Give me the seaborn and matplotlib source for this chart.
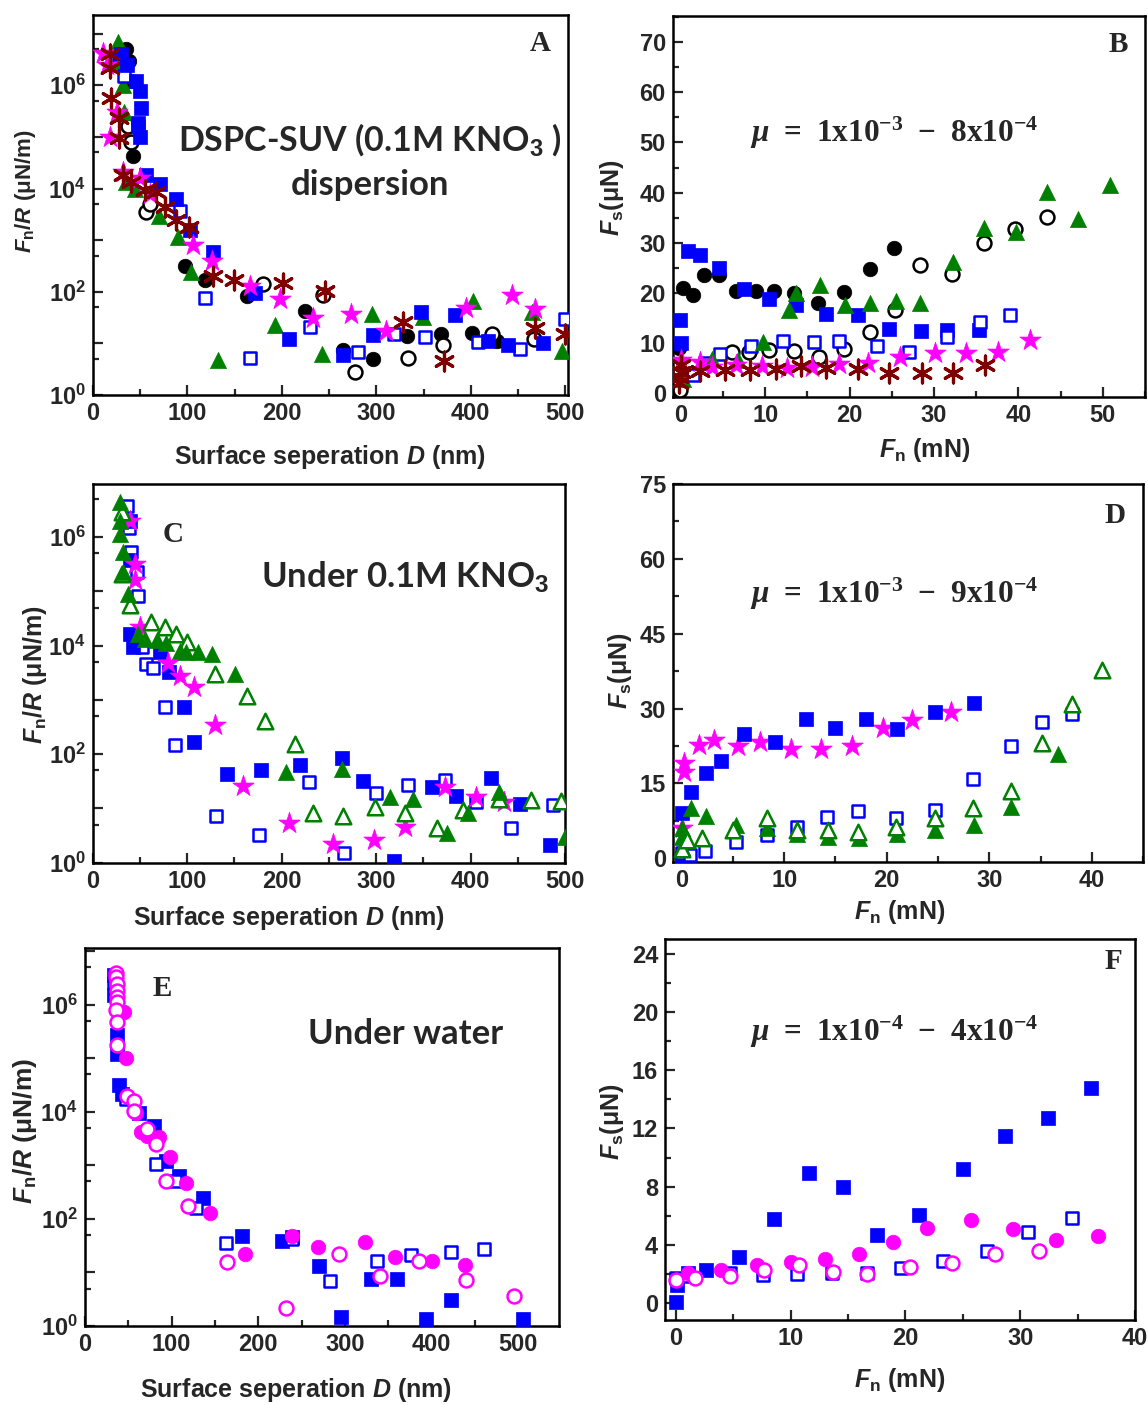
import numpy as np
import pandas as pd
import matplotlib
matplotlib.use("Agg")
import matplotlib.pyplot as plt
import seaborn as sns
from matplotlib.ticker import MultipleLocator, LogLocator, FuncFormatter, NullFormatter

# ---------------- data ----------------
# Panel A: F/R (uN/m) vs D (nm) -- DSPC-SUV dispersion
A_bc_x = [35, 38, 40, 42, 97, 118.5, 162.6, 224.5, 265, 297, 332, 369, 401, 428]
A_bc_y = [5.0e6, 3.0e6, 1.2e6, 4.2e4, 3.2e2, 1.7e2, 83, 42, 7.4, 4.9, 13.8, 15, 16, 11]
A_oc_x = [30, 33, 37, 40, 56.6, 60, 180, 244, 277.5, 334, 371, 422.5, 466.6]
A_oc_y = [4.0e6, 2.5e6, 1.6e5, 8.0e4, 3.5e3, 5.0e3, 1.4e2, 87, 2.8, 5.1, 9.5, 15, 12]
A_bs_x = [30, 36, 46, 49.5, 51.3, 47.7, 49.5, 56.6, 70.7, 88.4, 102.5, 127, 171.5, 207.5,
          265, 296, 347.5, 383, 418, 439.5, 477]
A_bs_y = [4.0e6, 2.5e6, 1.2e6, 7.8e5, 3.6e5, 1.9e5, 1.0e5, 1.8e4, 1.2e4, 6.3e3, 1.55e3,
          5.9e2, 93, 12, 5.9, 14.5, 41, 35, 11, 9.3, 10]
A_os_x = [28, 33, 47.7, 92, 118.5, 166, 230, 281, 319, 352, 408, 452.5, 500]
A_os_y = [3.5e6, 1.5e6, 1.6e5, 3.7e3, 76, 5.2, 21, 6.8, 15, 13.5, 10.7, 7.9, 30]
A_gt_x = [26.6, 28, 31.8, 33, 35.4, 45, 70, 90, 104, 132.5, 193, 243, 295, 349, 402, 465, 496.6]
A_gt_y = [6.8e6, 3.0e6, 1.0e6, 3.0e5, 1.35e4, 1.0e4, 3.0e3, 1.15e3, 2.45e2, 4.7, 23, 6.2,
          37, 32, 66, 40, 7.1]
A_ms_x = [10.6, 15, 17.7, 25, 31.8, 50, 60, 106, 125.5, 166, 198, 232.6, 273, 310, 395, 443.6, 468]
A_ms_y = [4.3e6, 2.5e6, 1.0e5, 3.0e5, 2.1e4, 1.6e4, 8.0e3, 7.9e2, 4.0e2, 1.3e2, 74, 31, 37,
          17, 48, 87, 46]
A_da_x = [17.7, 17.7, 19.5, 28, 28, 31.8, 40.7, 54.8, 67, 76, 87.7, 102, 127, 149, 201,
          245.7, 328, 372, 468, 500]
A_da_y = [4.0e6, 2.2e6, 5.8e5, 2.3e5, 9.5e4, 1.8e4, 1.35e4, 9.3e3, 8.7e3, 4.3e3, 2.5e3,
          1.8e3, 2.0e2, 1.7e2, 1.5e2, 1.05e2, 26, 4.6, 20, 15]

# Panel B: Fs (uN) vs Fn (mN)
B_bc_x = [-0.15, 0.3, 1.4, 2.7, 4.5, 6.6, 8.9, 11.1, 13.4, 16.3, 19.3, 22.4, 25.3]
B_bc_y = [9.0, 20.9, 19.6, 23.6, 23.6, 20.4, 20.4, 20.4, 19.9, 17.9, 20.2, 24.8, 28.9]
B_oc_x = [-0.1, 6.1, 8.1, 10.4, 13.4, 16.4, 19.4, 22.4, 25.4, 28.4, 32.1, 35.9, 39.6, 43.4]
B_oc_y = [0.7, 8.3, 8.3, 8.6, 8.5, 7.3, 8.8, 12.3, 16.6, 25.6, 23.7, 29.9, 32.7, 35.2]
B_bs_x = [-0.07, 0, 0.9, 2.3, 4.5, 7.5, 10.5, 13.6, 17.2, 21.0, 24.7, 28.5, 31.5, 35.3]
B_bs_y = [14.7, 10.0, 28.4, 27.5, 24.9, 20.7, 18.7, 17.6, 15.8, 15.6, 12.8, 12.5, 12.6, 12.6]
B_os_x = [1.5, 2.9, 4.6, 8.3, 12.1, 15.8, 18.8, 23.3, 27.1, 31.6, 35.4, 39.0]
B_os_y = [3.6, 6.0, 7.8, 9.4, 10.4, 10.3, 10.5, 9.4, 8.3, 11.2, 14.3, 15.6]
B_gt_x = [0.3, 3.7, 6.8, 9.8, 12.8, 13.6, 16.5, 19.5, 22.4, 25.5, 28.4, 32.2, 35.9, 39.7,
          43.4, 47.1, 50.9]
B_gt_y = [2.8, 6.8, 6.6, 10.3, 16.6, 20.0, 21.6, 17.6, 17.9, 18.4, 17.9, 26.1, 32.9, 32.1,
          40.2, 34.7, 41.5]
B_ms_x = [0, 2.3, 3.7, 6.6, 9.6, 12.6, 15.5, 18.7, 22.2, 26.0, 30.1, 33.8, 37.6, 41.4]
B_ms_y = [6.6, 6.3, 5.3, 5.6, 5.4, 5.0, 5.3, 5.8, 6.0, 7.3, 8.0, 8.0, 8.3, 10.6]
B_da_x = [-0.15, -0.15, 0, 0, 2.3, 5.3, 8.2, 11.3, 14.3, 17.2, 21.0, 24.7, 28.6, 32.3, 36.1]
B_da_y = [2.0, 3.3, 4.3, 5.6, 4.4, 4.6, 4.6, 4.8, 5.4, 5.0, 4.8, 4.0, 4.0, 4.1, 5.6]

# Panel C: under 0.1M KNO3
C_gt_x = [29, 29, 29, 32.6, 32.6, 37.7, 48, 55, 67.7, 78, 92, 99, 112, 126, 150.6, 205,
          263.5, 314.6, 339, 374.6, 397.5, 430, 500]
C_gt_y = [4.5e6, 2.0e6, 1.15e6, 5.2e5, 2.3e5, 9.1e4, 1.66e4, 1.35e4, 1.26e4, 1.1e4, 8.1e3,
          7.6e3, 7.6e3, 7.1e3, 3.0e3, 47, 54, 16, 15, 3.5, 8.1, 20, 3.0]
C_ot_x = [30.7, 30.7, 39.5, 61.7, 76.5, 88, 99.4, 129.4, 163.6, 182.3, 214, 233.4, 265,
          298.7, 330.5, 365, 392, 430, 464, 495.5]
C_ot_y = [2.9e6, 2.1e5, 5.5e4, 2.7e4, 2.2e4, 1.66e4, 1.17e4, 3.0e3, 1.2e3, 4.1e2, 1.55e2,
          8.1, 7.2, 10.5, 8.1, 4.4, 9.3, 15, 14.5, 13.5]
C_bs_x = [39.5, 39.5, 39.5, 43, 71, 81, 97, 107.5, 141.8, 178, 219.4, 263.5, 285.7, 318.8,
          358.7, 384.4, 422, 452, 484]
C_bs_y = [2.0e6, 3.7e5, 1.66e4, 9.3e3, 7.6e3, 3.2e3, 7.4e2, 1.66e2, 44, 52, 63, 85, 32,
          1.07, 25, 17, 36, 12.3, 2.1]
C_os_x = [36, 38, 41, 46.5, 48, 52, 56.4, 64, 76.5, 87, 131, 176, 229, 266, 299.8, 334,
          372.8, 406, 443, 487]
C_os_y = [3.8e6, 1.5e6, 5.2e5, 2.3e5, 8.1e4, 9.3e3, 4.5e3, 3.9e3, 7.4e2, 1.5e2, 7.2, 3.3,
          31, 1.5, 19.5, 27, 34, 13.2, 4.3, 11.5]
C_ms_x = [40, 44.8, 44.8, 50, 80, 92.4, 107.5, 130, 158.7, 207.7, 254, 298, 330.5, 372.8,
          405.6, 435.6]
C_ms_y = [2.0e6, 3.2e5, 1.6e5, 2.2e4, 4.7e3, 2.8e3, 1.74e3, 3.5e2, 26, 5.4, 2.2, 2.6, 4.6,
          25, 16, 13.2]

# Panel D
D_bs_x = [0, 0, 0.9, 2.4, 3.8, 6.1, 9.1, 12.1, 15.0, 18.0, 21.0, 24.7, 28.5]
D_bs_y = [0.0, 9.0, 13.2, 17.0, 19.5, 24.8, 23.2, 28.0, 26.1, 27.9, 25.9, 29.3, 31.1]
D_os_x = [0, 0.8, 2.3, 5.3, 8.3, 11.3, 14.2, 17.2, 20.9, 24.7, 28.4, 32.1, 35.1, 38.1]
D_os_y = [1.1, 0.7, 1.5, 3.3, 4.7, 6.3, 8.2, 9.5, 8.1, 9.6, 15.8, 22.5, 27.2, 29.0]
D_gt_x = [0, 0, 0, 0.9, 2.4, 5.3, 8.3, 11.3, 14.3, 17.3, 21.0, 24.7, 28.5, 32.1, 36.7]
D_gt_y = [2.3, 4.3, 6.0, 10.0, 8.5, 6.7, 6.1, 4.8, 4.3, 4.1, 4.8, 5.7, 6.7, 10.2, 20.8]
D_ot_x = [0, 0.5, 2.0, 5.0, 8.3, 11.3, 14.3, 17.2, 20.9, 24.7, 28.4, 32.1, 35.1, 38.1, 41.0]
D_ot_y = [1.8, 3.7, 4.0, 5.7, 8.0, 5.7, 5.7, 5.3, 6.3, 8.0, 10.0, 13.5, 23.0, 31.0, 37.7]
D_ms_x = [0, 0.2, 0.2, 1.7, 3.2, 5.5, 7.6, 10.7, 13.6, 16.6, 19.6, 22.5, 26.3]
D_ms_y = [6.0, 17.2, 19.0, 22.7, 23.7, 22.5, 23.2, 21.8, 21.8, 22.5, 26.0, 27.7, 29.3]

# Panel E: under water
E_bs_x = [33.5, 33.5, 37.4, 37.4, 39.2, 43, 62.3, 79.6, 93, 108.4, 136.5, 181.5, 227.7,
          238.4, 270, 329.5, 360, 296, 394, 421.8, 505]
E_bs_y = [3.5e6, 1.5e6, 2.75e5, 1.17e5, 3.2e4, 2.1e4, 9.5e3, 5.4e3, 1.2e3, 6.3e2, 2.5e2,
          47, 39, 45, 13.2, 7.6, 7.6, 1.45, 1.35, 3.0, 1.35]
E_os_x = [33.5, 47, 81.5, 103.8, 127.7, 162.3, 238.4, 282.6, 337, 376.5, 422.6, 460]
E_os_y = [2.5e6, 1.7e4, 1.05e3, 5.1e2, 1.6e2, 35, 42, 6.9, 16.6, 21, 24.5, 27]
E_mc_x = [45, 47, 58.5, 64.2, 72, 85.4, 98, 116, 144, 184.5, 238.4, 268.7, 322.6, 357.6, 400, 439]
E_mc_y = [7.4e5, 1.0e5, 9.5e3, 4.2e3, 3.5e3, 3.4e3, 1.45e3, 4.6e2, 1.3e2, 22, 48, 30, 37,
          19, 16, 14]
E_mo_x = [35.4, 35.4, 37, 37, 37, 37, 35.4, 37, 37, 49, 56.5, 56.5, 71, 81.5, 94, 119, 164,
          231.5, 293, 341, 385, 440, 495]
E_mo_y = [3.9e6, 3.2e6, 2.4e6, 1.8e6, 1.4e6, 1.1e6, 7.8e5, 4.7e5, 1.74e5, 2.0e4, 1.6e4,
          1.05e4, 4.8e3, 2.5e3, 5.1e2, 1.7e2, 15.5, 2.2, 22, 8.7, 16.6, 7.2, 3.6]

# Panel F
F_bs_x = [0, 0.1, 1.1, 2.6, 5.5, 8.6, 11.6, 14.6, 17.5, 21.2, 25.0, 28.7, 32.4, 36.2]
F_bs_y = [0.1, 1.25, 2.05, 2.28, 3.2, 5.8, 8.97, 7.95, 4.68, 6.05, 9.2, 11.46, 12.7, 14.77]
F_os_x = [0, 1.1, 4.7, 7.6, 10.6, 13.6, 16.7, 19.6, 23.3, 27.1, 30.7, 34.5]
F_os_y = [1.7, 1.9, 2.05, 1.94, 1.98, 2.1, 2.05, 2.44, 2.9, 3.58, 4.9, 5.86]
F_mc_x = [0, 1.1, 3.95, 7.1, 10.0, 13.0, 16.0, 18.9, 21.9, 25.7, 29.4, 33.1, 36.8]
F_mc_y = [1.6, 2.05, 2.28, 2.62, 2.85, 3.03, 3.35, 4.22, 5.18, 5.7, 5.09, 4.34, 4.63]
F_mo_x = [0.05, 1.7, 4.7, 7.7, 10.7, 13.7, 16.7, 20.4, 24.1, 27.8, 31.6]
F_mo_y = [1.6, 1.7, 1.87, 2.28, 2.62, 2.16, 1.98, 2.51, 2.78, 3.35, 3.58]

# ---------------- style ----------------
sns.set_theme(style="ticks")
plt.rcParams.update({
    "font.family": ["Liberation Sans", "DejaVu Sans"],
    "font.weight": "bold",
    "axes.labelweight": "bold",
    "mathtext.fontset": "custom",
    "mathtext.rm": "Liberation Sans:bold",
    "mathtext.it": "Liberation Sans:italic:bold",
    "mathtext.bf": "Liberation Sans:bold",
    "mathtext.sf": "Liberation Serif:bold",
    "mathtext.tt": "Liberation Serif:italic:bold",
    "axes.linewidth": 1.8,
    "axes.edgecolor": "black",
})

BLUE = "#0000FF"
GREEN = "#008000"
MAG = "#FF00FF"
DRED = "#800000"

STY = {
    "bc": dict(marker="o", color="black", edgecolor="black", linewidth=0.5, s=110),
    "oc": dict(marker="o", color="white", edgecolor="black", linewidth=1.8, s=100),
    "bs": dict(marker="s", color=BLUE, edgecolor=BLUE, linewidth=0.5, s=95),
    "os": dict(marker="s", color="white", edgecolor=BLUE, linewidth=1.8, s=82),
    "gt": dict(marker="^", color=GREEN, edgecolor=GREEN, linewidth=0.5, s=135),
    "ot": dict(marker="^", color="white", edgecolor=GREEN, linewidth=1.8, s=125),
    "ms": dict(marker="*", color=MAG, edgecolor=MAG, linewidth=0.5, s=260),
    "da": dict(marker=(6, 2, 0), color=DRED, edgecolor=DRED, linewidth=2.3, s=185),
    "mc": dict(marker="o", color=MAG, edgecolor=MAG, linewidth=0.5, s=110),
    "mo": dict(marker="o", color="white", edgecolor=MAG, linewidth=1.8, s=100),
}


def pts(ax, x, y, kind, z=3):
    df = pd.DataFrame({"x": x, "y": y})
    sns.scatterplot(data=df, x="x", y="y", ax=ax, legend=False, zorder=z, **STY[kind])


W, H = 1148, 1405
fig = plt.figure(figsize=(W / 100, H / 100), dpi=100)


def add_ax(l, t, r, b):
    return fig.add_axes([l / W, 1 - b / H, (r - l) / W, (b - t) / H])


def style_ax(ax):
    for s in ax.spines.values():
        s.set_visible(True)
        s.set_linewidth(1.8)
        s.set_color("black")
    ax.tick_params(which="both", direction="in", top=False, right=False, width=1.6,
                   labelsize=17, pad=5)
    ax.tick_params(which="major", length=7)
    ax.tick_params(which="minor", length=4)
    for lab in ax.get_xticklabels() + ax.get_yticklabels():
        lab.set_fontweight("bold")


def log_fmt(v, p):
    e = int(round(np.log10(v)))
    return r"$10^{%d}$" % e if e % 2 == 0 else ""


def set_log(ax, top, xmax):
    ax.set_yscale("log")
    ax.set_ylim(1, top)
    ax.set_xlim(0, xmax)
    ax.yaxis.set_major_locator(LogLocator(base=10, numticks=20))
    ax.yaxis.set_major_formatter(FuncFormatter(log_fmt))
    ax.yaxis.set_minor_locator(LogLocator(base=10, subs=[5], numticks=20))
    ax.yaxis.set_minor_formatter(NullFormatter())
    ax.xaxis.set_major_locator(MultipleLocator(100))
    ax.xaxis.set_minor_locator(MultipleLocator(50))


def labels(ax, xl, xpos, yl, ypos, xfs=18, yfs=15):
    ax.set_xlabel(xl, fontsize=xfs, fontweight="bold")
    ax.set_ylabel(yl, fontsize=yfs, fontweight="bold")
    ax.xaxis.set_label_coords(*xpos)
    ax.yaxis.set_label_coords(*ypos)
    ax.xaxis.label.set_va("center")
    ax.yaxis.label.set_va("center")


XL_D = r"Surface seperation $D$ (nm)"
YL_FR = r"$F_{\mathrm{n}}/R$ (μN/m)"
XL_FN = r"$F_{\mathrm{n}}$ (mN)"
YL_FS = r"$F_{\mathrm{s}}$(μN)"


def mu_text(ax, x, y, a, b, fs=22.5):
    ax.text(x, y, r"$\mathtt{\mu}\mathsf{\ =\ 1x10^{-%s}\ -\ %sx10^{-4}}$" % (a, b),
            transform=ax.transAxes, ha="center", va="center", fontsize=fs)


def letter(ax, x, y, s):
    ax.text(x, y, s, transform=ax.transAxes, ha="center", va="center", fontsize=21,
            family="Liberation Serif", fontweight="bold")


def big_text(ax, x, y, s, fs=25):
    ax.text(x, y, s, transform=ax.transAxes, ha="center", va="center", fontsize=fs,
            family="Lato", fontweight="bold")


# ---- Panel A ----
axA = add_ax(93, 15, 568, 395)
for k in ["bc", "oc", "gt", "os", "bs", "ms", "da"]:
    pts(axA, globals()[f"A_{k}_x"], globals()[f"A_{k}_y"], k)
set_log(axA, 2.3e7, 503)
style_ax(axA)
labels(axA, XL_D, (0.499, -0.163), YL_FR, (-0.143, 0.535), yfs=16)
letter(axA, 0.941, 0.926, "A")
big_text(axA, 0.583, 0.671, "DSPC-SUV (0.1M KNO$_3$ )", fs=24.5)
big_text(axA, 0.583, 0.553, "dispersion", fs=25)

# ---- Panel B ----
axB = add_ax(672.7, 16, 1145, 397.3)
for k in ["bc", "oc", "bs", "os", "gt", "ms", "da"]:
    pts(axB, globals()[f"B_{k}_x"], globals()[f"B_{k}_y"], k)
axB.set_xlim(-0.95, 55)
axB.set_ylim(-0.8, 75.2)
axB.xaxis.set_major_locator(MultipleLocator(10))
axB.xaxis.set_minor_locator(MultipleLocator(5))
axB.yaxis.set_major_locator(MultipleLocator(10))
axB.yaxis.set_minor_locator(MultipleLocator(5))
style_ax(axB)
labels(axB, XL_FN, (0.534, -0.138), YL_FS, (-0.128, 0.523), yfs=18)
letter(axB, 0.943, 0.924, "B")
mu_text(axB, 0.469, 0.693, "3", "8")

# ---- Panel C ----
axC = add_ax(92.7, 484, 565, 862.7)
for k in ["os", "bs", "ms", "ot", "gt"]:
    pts(axC, globals()[f"C_{k}_x"], globals()[f"C_{k}_y"], k)
set_log(axC, 9.5e6, 500)
style_ax(axC)
labels(axC, XL_D, (0.416, -0.146), YL_FR, (-0.122, 0.496), yfs=18)
letter(axC, 0.17, 0.867, "C")
big_text(axC, 0.661, 0.754, "Under 0.1M KNO$_3$")

# ---- Panel D ----
axD = add_ax(672.7, 484, 1143.3, 861.7)
for k in ["ms", "bs", "os", "gt", "ot"]:
    pts(axD, globals()[f"D_{k}_x"], globals()[f"D_{k}_y"], k)
axD.set_xlim(-0.86, 45)
axD.set_ylim(-0.7, 75)
axD.xaxis.set_major_locator(MultipleLocator(10))
axD.xaxis.set_minor_locator(MultipleLocator(5))
axD.yaxis.set_major_locator(MultipleLocator(15))
axD.yaxis.set_minor_locator(MultipleLocator(7.5))
style_ax(axD)
labels(axD, XL_FN, (0.483, -0.133), YL_FS, (-0.112, 0.505), yfs=18)
letter(axD, 0.94, 0.916, "D")
mu_text(axD, 0.47, 0.71, "3", "9")

# ---- Panel E ----
axE = add_ax(85, 947.7, 559, 1326)
for k in ["bs", "os", "mc", "mo"]:
    pts(axE, globals()[f"E_{k}_x"], globals()[f"E_{k}_y"], k)
set_log(axE, 1.15e7, 547)
style_ax(axE)
labels(axE, XL_D, (0.445, -0.169), YL_FR, (-0.127, 0.515), yfs=19)
letter(axE, 0.163, 0.893, "E")
big_text(axE, 0.677, 0.771, "Under water")

# ---- Panel F ----
axF = add_ax(665, 939, 1135, 1320)
for k in ["bs", "os", "mc", "mo"]:
    pts(axF, globals()[f"F_{k}_x"], globals()[f"F_{k}_y"], k)
axF.set_xlim(-0.93, 40)
axF.set_ylim(-1.15, 25)
axF.xaxis.set_major_locator(MultipleLocator(10))
axF.xaxis.set_minor_locator(MultipleLocator(5))
axF.yaxis.set_major_locator(MultipleLocator(4))
axF.yaxis.set_minor_locator(MultipleLocator(2))
style_ax(axF)
labels(axF, XL_FN, (0.5, -0.157), YL_FS, (-0.113, 0.52), yfs=18)
letter(axF, 0.955, 0.94, "F")
axF.text(0.487, 0.756, r"$\mathtt{\mu}\mathsf{\ =\ 1x10^{-4}\ -\ 4x10^{-4}}$",
         transform=axF.transAxes, ha="center", va="center", fontsize=22.5)

fig.savefig("out.png", dpi=100)
